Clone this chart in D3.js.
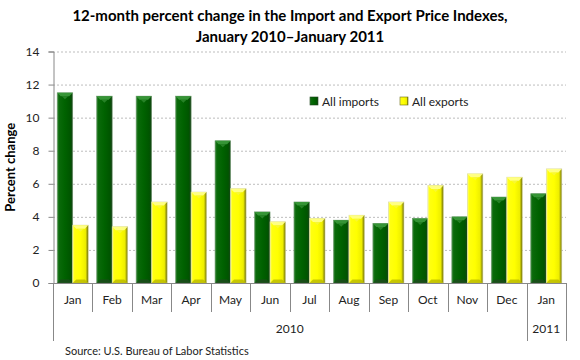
<!DOCTYPE html>
<html><head><meta charset="utf-8">
<script src="https://cdn.jsdelivr.net/npm/d3@7"></script>
<style>
body{margin:0;background:#fff;}
text{font-family:Lato,"Open Sans",sans-serif;}
</style></head>
<body><svg id="c" width="580" height="360"></svg>
<script>
const months = ["Jan","Feb","Mar","Apr","May","Jun","Jul","Aug","Sep","Oct","Nov","Dec","Jan"];
const years = [{label:"2010", from:0, to:11},{label:"2011", from:12, to:12}];
const imports = [11.5,11.3,11.3,11.3,8.6,4.3,4.9,3.8,3.6,3.9,4.0,5.2,5.4];
const exports_ = [3.5,3.4,4.9,5.5,5.7,3.7,3.9,4.1,4.9,5.9,6.6,6.4,6.9];
const seriesNames = ["All imports","All exports"];
const yTicks = [0,2,4,6,8,10,12,14];

const svg = d3.select("#c");
const L=53, R=566, T=51.5, B=283;
const idx = d3.range(months.length);
const x0 = d3.scaleBand().domain(idx).range([L,R]).paddingInner(0).paddingOuter(0);
const x1 = d3.scaleBand().domain([0,1]).range([0,x0.bandwidth()]).paddingInner(0).paddingOuter(0.27);
const y = d3.scaleLinear().domain([0,14]).range([B,T]);

const defs = svg.append("defs");
function grad(id, stops){
  const g = defs.append("linearGradient").attr("id",id).attr("x1","0").attr("x2","1").attr("y1","0").attr("y2","0");
  stops.forEach(s=>g.append("stop").attr("offset",s[0]).attr("stop-color",s[1]));
}
grad("gImp",[[0,"#3f8a3f"],[0.12,"#0a6a0a"],[0.5,"#006200"],[0.85,"#005500"],[1,"#1d421d"]]);
grad("gExp",[[0,"#ffff80"],[0.12,"#ffff10"],[0.5,"#ffff00"],[0.82,"#eeee00"],[1,"#6a6a10"]]);

// title
svg.append("text").attr("x",290).attr("y",21).attr("text-anchor","middle")
  .style("font-weight","bold").style("font-size","15px").attr("fill","#000")
  .text("12-month percent change in the Import and Export Price Indexes,");
svg.append("text").attr("x",290).attr("y",42).attr("text-anchor","middle")
  .style("font-weight","bold").style("font-size","15px").attr("fill","#000")
  .text("January 2010\u2013January 2011");

// gridlines
svg.append("g").selectAll("line").data(yTicks.filter(d=>d>0)).join("line")
  .attr("x1",L).attr("x2",R).attr("y1",d=>y(d)+0.5).attr("y2",d=>y(d)+0.5)
  .attr("stroke","#bdbdbd").attr("stroke-dasharray","2,2");

// y axis
const yAxis = d3.axisLeft(y).tickValues(yTicks).tickSize(5).tickPadding(9);
const ga = svg.append("g").attr("transform",`translate(${L+0.5},0)`).call(yAxis);
ga.select(".domain").attr("stroke","#888");
ga.selectAll(".tick line").attr("stroke","#888");
ga.selectAll(".tick text").style("font-size","12px").attr("fill","#222").style("font-family","Lato,sans-serif");

svg.append("text").attr("transform",`translate(15,${(T+B)/2}) rotate(-90)`).attr("text-anchor","middle")
  .style("font-weight","bold").style("font-size","13px").text("Percent change");

// bars
const data = idx.map(i=>({i, vals:[imports[i], exports_[i]]}));
const bars = svg.append("g");
data.forEach(d=>{
  d.vals.forEach((v,s)=>{
    const bx = x0(d.i)+x1(s), bw = x1.bandwidth(), by=y(v), bh=y(0)-y(v);
    const g = bars.append("g");
    g.append("rect").attr("x",bx).attr("y",by).attr("width",bw).attr("height",bh)
      .attr("fill", s===0?"url(#gImp)":"url(#gExp)")
      .attr("stroke", s===0?"#6f9a6f":"#d8d8a0").attr("stroke-width",0.6);
    const e=3.5;
    g.append("path").attr("d",`M${bx},${by}L${bx+bw},${by}L${bx+bw-e},${by+e}L${bx+e},${by+e}Z`)
      .attr("fill", s===0?"#3c9a3c":"#ffff90").attr("opacity",0.9);
    g.append("path").attr("d",`M${bx+bw*0.3},${by+e}L${bx+bw*0.7},${by+e}L${bx+bw/2},${by+e+3}Z`)
      .attr("fill", s===0?"#2f8a2f":"#f6f640").attr("opacity",0.8);
    g.append("path").attr("d",`M${bx},${B}L${bx+bw},${B}L${bx+bw-e},${B-e}L${bx+e},${B-e}Z`)
      .attr("fill", s===0?"#1e4a1e":"#b8b800").attr("opacity",0.8);
  });
});

// x axis
const ax = svg.append("g");
ax.append("line").attr("x1",L).attr("x2",R).attr("y1",B+0.5).attr("y2",B+0.5).attr("stroke","#888");
const seps = d3.range(months.length+1);
ax.selectAll("line.sep").data(seps).join("line").attr("class","sep")
  .attr("x1",i=>Math.round(i<months.length?x0(i):R)+0.5).attr("x2",i=>Math.round(i<months.length?x0(i):R)+0.5)
  .attr("y1",B).attr("y2",i=>(i===0||i===12||i===13)?341:312).attr("stroke","#888");
ax.selectAll("text.m").data(idx).join("text").attr("class","m")
  .attr("x",i=>x0(i)+x0.bandwidth()/2).attr("y",304).attr("text-anchor","middle")
  .style("font-size","12px").attr("fill","#222").text(i=>months[i]);
ax.selectAll("text.yr").data(years).join("text").attr("class","yr")
  .attr("x",d=>(x0(d.from)+x0(d.to)+x0.bandwidth())/2).attr("y",333).attr("text-anchor","middle")
  .style("font-size","12px").attr("fill","#222").text(d=>d.label);

svg.append("text").attr("x",65).attr("y",355).style("font-size","11px").attr("fill","#222")
  .text("Source: U.S. Bureau of Labor Statistics");

// legend
const leg = svg.append("g");
const lx=[310,400];
seriesNames.forEach((n,s)=>{
  leg.append("rect").attr("x",lx[s]).attr("y",97).attr("width",8).attr("height",8)
    .attr("fill",s===0?"url(#gImp)":"url(#gExp)").attr("stroke",s===0?"#1d421d":"#6a6a10").attr("stroke-width",0.6);
  leg.append("text").attr("x",lx[s]+12).attr("y",105.5).style("font-size","12px").attr("fill","#222").text(n);
});
</script></body></html>
